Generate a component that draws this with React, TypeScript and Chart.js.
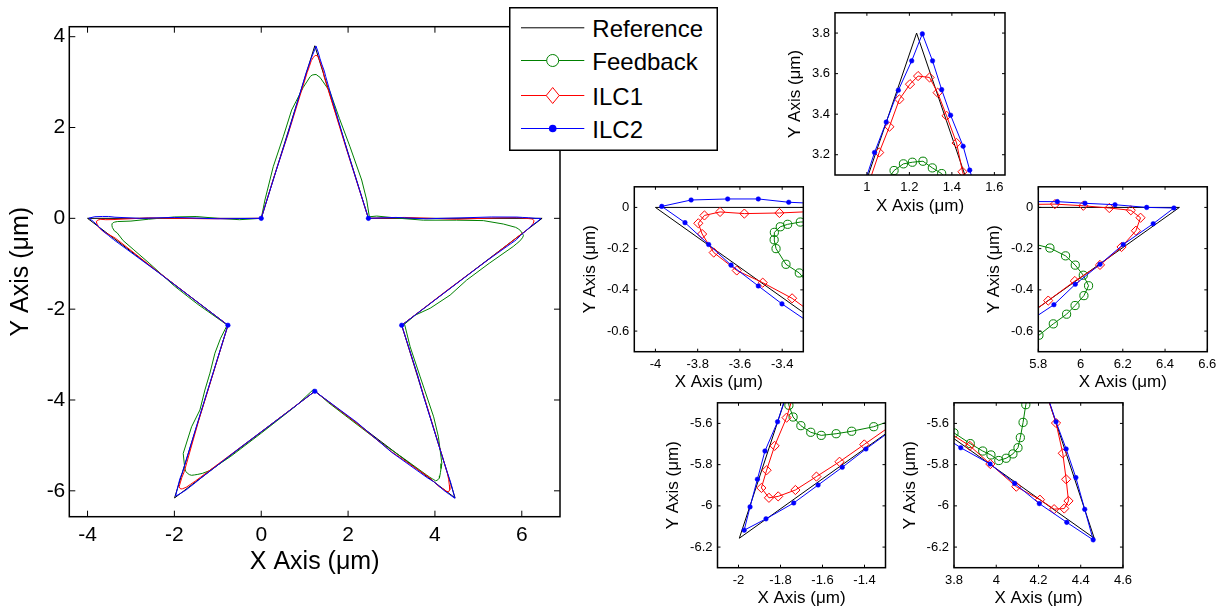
import React, { useEffect, useRef } from 'react';
import { Chart, registerables } from 'chart.js';

Chart.register(...registerables);

type Pt = [number, number];

const FONT = "'Liberation Sans', Arial, Helvetica, sans-serif";
const BLACK = '#000000';
const GREEN = '#008000';
const RED = '#ff0000';
const BLUE = '#0000ff';

const seriesNames = ['Reference', 'Feedback', 'ILC1', 'ILC2'];
const X_TITLE = 'X Axis (μm)';
const Y_TITLE = 'Y Axis (μm)';

// ---------------- data (x, y in µm) ----------------
const referencePath: Pt[] = [
  [0, 0], [1.234, 3.8], [2.468, 0], [6.468, 0], [3.235, -2.354], [4.464, -6.157],
  [1.234, -3.808], [-1.996, -6.157], [-0.767, -2.354], [-4.0, 0], [0, 0],
];

const feedbackPath: Pt[] = [
  [0, 0], [0.085, 0.403], [0.276, 1.137], [0.507, 1.797], [0.7, 2.385], [0.968, 2.885],
  [1.128, 3.122], [1.172, 3.155], [1.214, 3.163], [1.264, 3.168], [1.308, 3.135], [1.352, 3.107],
  [1.583, 2.789], [1.8, 2.2], [2.044, 1.577], [2.313, 0.844], [2.429, 0.403], [2.489, 0.035],
  [2.66, 0.05], [3.196, 0.0], [3.733, -0.04], [4.5, -0.04], [5.115, -0.05], [5.576, -0.125],
  [5.855, -0.197], [5.929, -0.235], [5.975, -0.28], [6.013, -0.329], [6.038, -0.38], [6.016, -0.428],
  [5.974, -0.476], [5.934, -0.518], [5.871, -0.565], [5.803, -0.62],
  [5.25, -0.99], [4.73, -1.36], [4.35, -1.69], [3.89, -1.98], [3.55, -2.13], [3.3, -2.33],
  [3.43, -2.83], [3.66, -3.49], [3.97, -4.37], [4.08, -4.81], [4.16, -5.4],
  [4.14, -5.509], [4.127, -5.595], [4.114, -5.669], [4.103, -5.718], [4.079, -5.748], [4.047, -5.769],
  [4.012, -5.78], [3.975, -5.753], [3.936, -5.734], [3.877, -5.698], [3.8, -5.646],
  [3.3, -5.3], [2.7, -4.9], [2.0, -4.39], [1.55, -4.06], [1.2, -3.77],
  [0.8, -4.13], [0.0, -4.73], [-0.7, -5.24], [-1.2, -5.56],
  [-1.356, -5.616], [-1.461, -5.638], [-1.535, -5.65], [-1.606, -5.658], [-1.656, -5.643],
  [-1.703, -5.611], [-1.74, -5.569], [-1.76, -5.512],
  [-1.797, -5.176], [-1.604, -4.59], [-1.412, -4.22], [-1.297, -3.78], [-1.182, -3.41],
  [-1.067, -2.97], [-0.936, -2.64], [-0.783, -2.35],
  [-1.45, -1.9], [-1.64, -1.76], [-2.0, -1.49], [-2.565, -1.0], [-2.95, -0.68], [-3.18, -0.49],
  [-3.319, -0.318], [-3.382, -0.276], [-3.429, -0.2], [-3.438, -0.157], [-3.437, -0.121],
  [-3.409, -0.094], [-3.374, -0.082], [-3.314, -0.071],
  [-3.0, -0.06], [-2.6, -0.02], [-2.0, 0.03], [-1.5, 0.04], [-1.0, 0.0], [-0.5, -0.03], [0, 0],
];

const ilc1Path: Pt[] = [
  [0, 0], [0.3, 0.93], [0.62, 1.86],
  [1.058, 3.211], [1.106, 3.338], [1.153, 3.473], [1.203, 3.548], [1.241, 3.588], [1.295, 3.581],
  [1.333, 3.506], [1.375, 3.392], [1.422, 3.258], [1.45, 3.116],
  [1.96, 1.53], [2.468, 0],
  [3.3, 0.02], [4.5, -0.02], [5.4, 0.01],
  [5.879, 0.016], [6.013, 0.008], [6.136, -0.003], [6.238, -0.014], [6.284, -0.05], [6.262, -0.113],
  [6.194, -0.192], [6.092, -0.279], [5.973, -0.357], [5.847, -0.452],
  [5.2, -0.93], [4.3, -1.57], [3.235, -2.354],
  [3.6, -3.46], [3.95, -4.55],
  [4.283, -5.598], [4.315, -5.745], [4.331, -5.871], [4.342, -5.976], [4.322, -6.013], [4.274, -6.016],
  [4.207, -5.97], [4.095, -5.907], [3.972, -5.797], [3.875, -5.709],
  [3.0, -5.14], [2.2, -4.51], [1.234, -3.808],
  [0.0, -4.7], [-0.6, -5.13],
  [-1.401, -5.702], [-1.519, -5.786], [-1.629, -5.858], [-1.729, -5.923], [-1.811, -5.954],
  [-1.855, -5.961], [-1.891, -5.913], [-1.866, -5.827], [-1.828, -5.709], [-1.771, -5.572],
  [-1.44, -4.45], [-0.767, -2.354],
  [-1.6, -1.75], [-2.4, -1.16],
  [-3.353, -0.441], [-3.492, -0.365], [-3.615, -0.306], [-3.724, -0.219], [-3.779, -0.129],
  [-3.797, -0.077], [-3.768, -0.039], [-3.694, -0.022], [-3.579, -0.03], [-3.413, -0.027],
  [-2.6, 0.01], [-1.2, -0.01], [0, 0],
];

const ilc2Path: Pt[] = [
  [0, 0], [0.31, 0.95], [0.62, 1.88],
  [1.036, 3.211], [1.091, 3.361], [1.148, 3.518], [1.211, 3.663], [1.261, 3.796], [1.309, 3.663],
  [1.352, 3.521], [1.394, 3.395], [1.453, 3.242], [1.484, 3.124],
  [1.97, 1.52], [2.468, 0],
  [3.1, 0.02], [3.8, -0.01], [4.6, 0.01], [5.3, 0.03],
  [5.89, 0.028], [6.021, 0.02], [6.163, 0.013], [6.313, 0.0], [6.442, -0.003], [6.344, -0.079],
  [6.202, -0.18], [6.092, -0.276], [5.975, -0.373], [5.874, -0.472],
  [5.2, -0.93], [4.3, -1.58], [3.235, -2.354],
  [3.6, -3.45], [3.72, -3.86],
  [4.283, -5.592], [4.331, -5.724], [4.377, -5.863], [4.419, -6.017], [4.459, -6.165], [4.334, -6.08],
  [4.204, -5.989], [4.087, -5.891], [3.971, -5.797], [3.832, -5.718],
  [3.0, -5.15], [2.2, -4.49], [1.234, -3.808],
  [0.6, -4.27], [-0.5, -5.06],
  [-1.393, -5.724], [-1.506, -5.813], [-1.621, -5.899], [-1.737, -5.986], [-1.869, -6.063],
  [-1.973, -6.118], [-1.945, -6.005], [-1.91, -5.871], [-1.874, -5.734], [-1.814, -5.592],
  [-1.45, -4.45], [-0.767, -2.354],
  [-1.6, -1.75], [-2.4, -1.17],
  [-3.401, -0.468], [-3.513, -0.381], [-3.642, -0.28], [-3.748, -0.18], [-3.86, -0.074],
  [-3.97, 0.005], [-3.831, 0.036], [-3.658, 0.041], [-3.513, 0.041], [-3.369, 0.025],
  [-2.8, 0.0], [-2.0, 0.02], [-1.0, -0.01], [0, 0],
];

const ilc2MainMarkers: Pt[] = [[0, 0], [2.468, 0], [3.235, -2.354], [1.234, -3.808], [-0.767, -2.354]];

// axis ranges and ticks
const mainXRange: [number, number] = [-4.42, 6.88];
const mainYRange: [number, number] = [-6.57, 4.22];
const mainXTicks = [-4, -2, 0, 2, 4, 6];
const mainYTicks = [-6, -4, -2, 0, 2, 4];

const topTipXRange: [number, number] = [0.85, 1.65];
const topTipYRange: [number, number] = [3.1, 3.9];
const topTipXTicks = [1, 1.2, 1.4, 1.6];
const topTipYTicks = [3.2, 3.4, 3.6, 3.8];

const leftTipXRange: [number, number] = [-4.1, -3.3];
const leftTipYRange: [number, number] = [-0.7, 0.1];
const leftTipXTicks = [-4, -3.8, -3.6, -3.4];
const leftTipYTicks = [-0.6, -0.4, -0.2, 0];

const rightTipXRange: [number, number] = [5.8, 6.6];
const rightTipYRange: [number, number] = [-0.7, 0.1];
const rightTipXTicks = [5.8, 6, 6.2, 6.4, 6.6];
const rightTipYTicks = [-0.6, -0.4, -0.2, 0];

const bottomLeftXRange: [number, number] = [-2.1, -1.3];
const bottomLeftYRange: [number, number] = [-6.3, -5.5];
const bottomLeftXTicks = [-2, -1.8, -1.6, -1.4];
const bottomLeftYTicks = [-6.2, -6, -5.8, -5.6];

const bottomRightXRange: [number, number] = [3.8, 4.6];
const bottomRightYRange: [number, number] = [-6.3, -5.5];
const bottomRightXTicks = [3.8, 4, 4.2, 4.4, 4.6];
const bottomRightYTicks = [-6.2, -6, -5.8, -5.6];

// ---------------- layout ----------------
interface PlotSpec {
  id: string;
  xRange: [number, number];
  yRange: [number, number];
  xTicks: number[];
  yTicks: number[];
  canvasLeft: number;
  canvasTop: number;
  width: number;
  height: number;
  yAxisWidth: number;
  xAxisHeight: number;
  padTop: number;
  padRight: number;
  tickFont: number;
  titleFont: number;
  xTitlePad: number;
  yTitlePad: number;
  xTickPad: number;
  yTickPad: number;
  tickLen: number;
  markers: boolean;
  extraMarkers?: Pt[];
}

function insetSpec(
  id: string,
  box: [number, number, number, number],
  xRange: [number, number], yRange: [number, number],
  xTicks: number[], yTicks: number[],
  yTitleOffset: number,
): PlotSpec {
  const [bl, bt, br, bb] = box;
  const canvasLeft = Math.floor(bl - 60);
  const canvasTop = Math.max(0, Math.floor(bt - 10));
  const right = Math.min(1222, Math.ceil(br + 14));
  const bottom = Math.ceil(bb + 50);
  const width = right - canvasLeft;
  const height = bottom - canvasTop;
  const yAxisWidth = bl - canvasLeft;
  const xAxisHeight = bottom - bb;
  const titleFont = 17;
  const lh = titleFont * 1.2;
  return {
    id, xRange, yRange, xTicks, yTicks,
    canvasLeft, canvasTop, width, height,
    yAxisWidth, xAxisHeight,
    padTop: bt - canvasTop,
    padRight: right - br,
    tickFont: 13,
    titleFont,
    xTitlePad: xAxisHeight - lh / 2 - 31,
    yTitlePad: yAxisWidth - lh / 2 - yTitleOffset,
    xTickPad: 5,
    yTickPad: 5,
    tickLen: 3,
    markers: true,
  };
}

const mainSpec: PlotSpec = {
  id: 'main',
  xRange: mainXRange, yRange: mainYRange, xTicks: mainXTicks, yTicks: mainYTicks,
  canvasLeft: 0, canvasTop: 0, width: 585, height: 600,
  yAxisWidth: 69.3, xAxisHeight: 600 - 516.7,
  padTop: 26.7, padRight: 585 - 560,
  tickFont: 21, titleFont: 25,
  xTitlePad: 600 - 516.7 - 15 - 45.3,
  yTitlePad: 6,
  xTickPad: 6, yTickPad: 4, tickLen: 6,
  markers: false,
  extraMarkers: ilc2MainMarkers,
};

const insetSpecs: PlotSpec[] = [
  insetSpec('top', [835, 6.7, 1005, 175], topTipXRange, topTipYRange, topTipXTicks, topTipYTicks, 39.2),
  insetSpec('left', [634.3, 184, 803.3, 351.7], leftTipXRange, leftTipYRange, leftTipXTicks, leftTipYTicks, 43.5),
  insetSpec('right', [1038.3, 184, 1207.3, 351.7], rightTipXRange, rightTipYRange, rightTipXTicks, rightTipYTicks, 43.5),
  insetSpec('bl', [717.5, 400.7, 885.5, 567.7], bottomLeftXRange, bottomLeftYRange, bottomLeftXTicks, bottomLeftYTicks, 44),
  insetSpec('br', [954, 400.7, 1123, 567.7], bottomRightXRange, bottomRightYRange, bottomRightXTicks, bottomRightYTicks, 43.5),
];

// ---------------- chart building ----------------
const fmt = (v: number | string) => String(Math.round(Number(v) * 1000) / 1000);

const boxTicksPlugin = {
  id: 'boxTicks',
  afterDatasetsDraw(chart: any, _args: any, opts: any) {
    const { ctx, chartArea } = chart;
    const { left, right, top, bottom } = chartArea;
    const xs = chart.scales.x;
    const ys = chart.scales.y;
    const len = opts.len;
    ctx.save();
    ctx.strokeStyle = '#000';
    ctx.lineWidth = 1;
    ctx.beginPath();
    for (const t of xs.ticks) {
      const p = xs.getPixelForValue(t.value);
      ctx.moveTo(p, bottom); ctx.lineTo(p, bottom - len);
      ctx.moveTo(p, top); ctx.lineTo(p, top + len);
    }
    for (const t of ys.ticks) {
      const p = ys.getPixelForValue(t.value);
      ctx.moveTo(left, p); ctx.lineTo(left + len, p);
      ctx.moveTo(right, p); ctx.lineTo(right - len, p);
    }
    ctx.stroke();
    ctx.lineWidth = 1.5;
    ctx.strokeRect(left, top, right - left, bottom - top);
    ctx.restore();
  },
};

function buildConfig(spec: PlotSpec): any {
  const xy = (pts: Pt[]) => pts.map(([x, y]) => ({ x, y }));
  const m = spec.markers;
  const datasets: any[] = [];
  if (spec.extraMarkers) {
    datasets.push({
      label: 'ILC2 vertices', data: xy(spec.extraMarkers), showLine: false,
      pointRadius: 2.3, pointStyle: 'circle', pointBackgroundColor: BLUE, pointBorderColor: BLUE,
      pointBorderWidth: 0.5, order: -1, clip: 6,
    });
  }
  datasets.push(
    {
      label: seriesNames[3], data: xy(ilc2Path), showLine: true, borderColor: BLUE, borderWidth: 1,
      pointRadius: m ? 2.3 : 0, pointStyle: 'circle', pointBackgroundColor: BLUE, pointBorderColor: BLUE,
      pointBorderWidth: 0.5, order: 0, clip: 0, tension: 0,
    },
    {
      label: seriesNames[2], data: xy(ilc1Path), showLine: true, borderColor: RED, borderWidth: 1,
      pointRadius: m ? 4.6 : 0, pointStyle: 'rectRot', pointBackgroundColor: 'rgba(0,0,0,0)',
      pointBorderColor: RED, pointBorderWidth: 1, order: 1, clip: 0, tension: 0,
    },
    {
      label: seriesNames[1], data: xy(feedbackPath), showLine: true, borderColor: GREEN, borderWidth: 1,
      pointRadius: m ? 4.1 : 0, pointStyle: 'circle', pointBackgroundColor: 'rgba(0,0,0,0)',
      pointBorderColor: GREEN, pointBorderWidth: 1, order: 2, clip: 0, tension: 0,
    },
    {
      label: seriesNames[0], data: xy(referencePath), showLine: true, borderColor: BLACK, borderWidth: 1,
      pointRadius: 0, order: 3, clip: 0, tension: 0,
    },
  );

  const tickFont = { size: spec.tickFont, family: FONT };
  const titleFont = { size: spec.titleFont, family: FONT };

  return {
    type: 'scatter',
    data: { datasets },
    plugins: [boxTicksPlugin],
    options: {
      responsive: false,
      animation: false,
      devicePixelRatio: 1,
      events: [],
      layout: { padding: { top: spec.padTop, right: spec.padRight, left: 0, bottom: 0 } },
      plugins: {
        legend: { display: false },
        tooltip: { enabled: false },
        boxTicks: { len: spec.tickLen },
      },
      scales: {
        x: {
          type: 'linear', position: 'bottom',
          min: spec.xRange[0], max: spec.xRange[1],
          afterBuildTicks: (s: any) => { s.ticks = spec.xTicks.map((v) => ({ value: v })); },
          afterFit: (s: any) => { s.height = spec.xAxisHeight; },
          grid: { display: false, drawTicks: false },
          border: { display: false },
          ticks: {
            font: tickFont, color: '#000', padding: spec.xTickPad, maxRotation: 0, minRotation: 0,
            autoSkip: false, callback: (v: any) => fmt(v),
          },
          title: {
            display: true, text: X_TITLE, font: titleFont, color: '#000',
            padding: { top: 0, bottom: spec.xTitlePad },
          },
        },
        y: {
          type: 'linear', position: 'left',
          min: spec.yRange[0], max: spec.yRange[1],
          afterBuildTicks: (s: any) => { s.ticks = spec.yTicks.map((v) => ({ value: v })); },
          afterFit: (s: any) => { s.width = spec.yAxisWidth; },
          grid: { display: false, drawTicks: false },
          border: { display: false },
          ticks: {
            font: tickFont, color: '#000', padding: spec.yTickPad, autoSkip: false,
            callback: (v: any) => fmt(v),
          },
          title: {
            display: true, text: Y_TITLE, font: titleFont, color: '#000',
            padding: { top: spec.yTitlePad, bottom: 0 },
          },
        },
      },
    },
  };
}

function PlotCanvas({ spec }: { spec: PlotSpec }) {
  const ref = useRef<HTMLCanvasElement>(null);
  useEffect(() => {
    const chart = new Chart(ref.current as HTMLCanvasElement, buildConfig(spec));
    return () => chart.destroy();
  }, [spec]);
  return (
    <canvas
      ref={ref}
      width={spec.width}
      height={spec.height}
      style={{
        position: 'absolute', left: spec.canvasLeft, top: spec.canvasTop,
        width: spec.width, height: spec.height,
      }}
    />
  );
}

// ---------------- legend ----------------
const legendColors = [BLACK, GREEN, RED, BLUE];
const legendRowsY = [20.8, 53.5, 88.5, 121.5];

function Legend() {
  const lineX1 = 12;
  const lineX2 = 75.3;
  const mx = 43.7;
  return (
    <svg
      width={209}
      height={144}
      style={{ position: 'absolute', left: 508.5, top: 7, overflow: 'visible' }}
    >
      <rect x={0.75} y={0.75} width={207.5} height={142.5} fill="#fff" stroke="#000" strokeWidth={1.5} />
      {seriesNames.map((name, i) => {
        const y = legendRowsY[i];
        const c = legendColors[i];
        return (
          <g key={name}>
            <line x1={lineX1} y1={y} x2={lineX2} y2={y} stroke={c} strokeWidth={1} />
            {i === 1 && <circle cx={mx} cy={y} r={6} fill="#fff" stroke={c} strokeWidth={1} />}
            {i === 2 && (
              <polygon
                points={`${mx - 6.5},${y} ${mx},${y - 8} ${mx + 6.5},${y} ${mx},${y + 8}`}
                fill="#fff" stroke={c} strokeWidth={1}
              />
            )}
            {i === 3 && <circle cx={mx} cy={y} r={3.8} fill={c} stroke="none" />}
            <text x={83.3} y={y + 9.3} fontFamily={FONT} fontSize={24} fill="#000">{name}</text>
          </g>
        );
      })}
    </svg>
  );
}

export default function App() {
  return (
    <div
      style={{
        position: 'absolute', left: 0, top: 0, width: 1223, height: 612,
        overflow: 'hidden', background: '#fff',
      }}
    >
      <PlotCanvas spec={mainSpec} />
      {insetSpecs.map((s) => <PlotCanvas key={s.id} spec={s} />)}
      <Legend />
    </div>
  );
}
